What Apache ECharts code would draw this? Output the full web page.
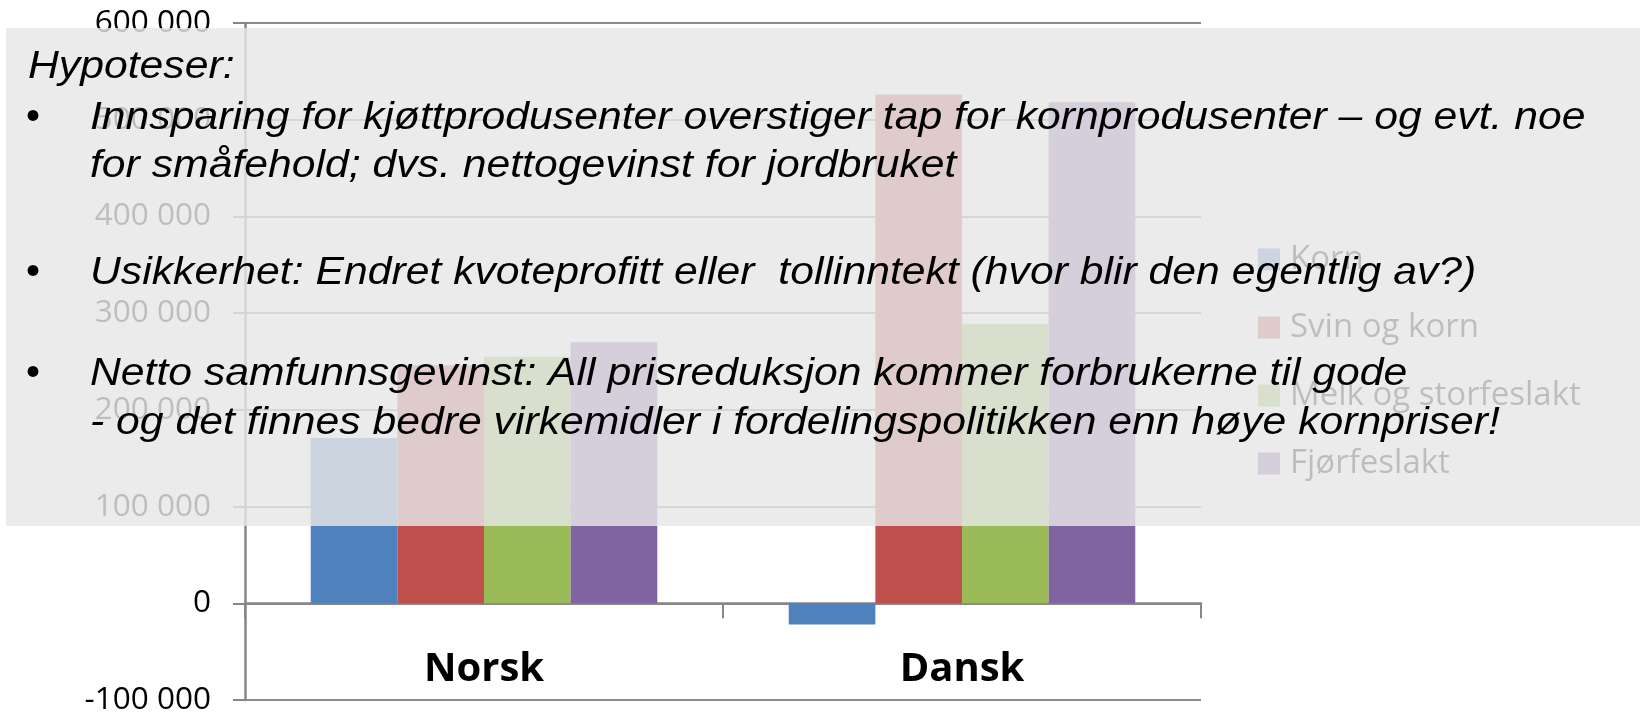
<!DOCTYPE html>
<html>
<head>
<meta charset="utf-8">
<script src="https://cdn.jsdelivr.net/npm/echarts@6/dist/echarts.min.js"></script>
<style>
html,body{margin:0;padding:0;background:#fff;}
#chart{width:1640px;height:714px;}
</style>
</head>
<body>
<div id="chart"></div>
<script>
const categories = ['Norsk', 'Dansk'];
const seriesNames = ['Korn', 'Svin og korn', 'Melk og storfeslakt', 'Fjørfeslakt'];
const korn = [171000, -22000];
const svinOgKorn = [246000, 526000];
const melkOgStorfeslakt = [255000, 289000];
const fjorfeslakt = [270000, 518000];
const yMin = -100000;
const yMax = 600000;
const yInterval = 100000;
const noteLines = [
  'Hypoteser:',
  'Innsparing for kjøttprodusenter overstiger tap for kornprodusenter – og evt. noe',
  'for småfehold; dvs. nettogevinst for jordbruket',
  'Usikkerhet: Endret kvoteprofitt eller  tollinntekt (hvor blir den egentlig av?)',
  'Netto samfunnsgevinst: All prisreduksjon kommer forbrukerne til gode',
  '- og det finnes bedre virkemidler i fordelingspolitikken enn høye kornpriser!'
];
const colors = ['#4f81bd', '#c0504d', '#9bbb59', '#8064a2'];

const chart = echarts.init(document.getElementById('chart'), null, {renderer: 'canvas'});

const seriesData = [korn, svinOgKorn, melkOgStorfeslakt, fjorfeslakt];
const series = seriesNames.map((n, i) => ({
  name: n,
  type: 'bar',
  data: seriesData[i],
  barGap: '0%',
  barCategoryGap: '27.5%',
  itemStyle: {color: colors[i]},
  z: 2
}));

const textFont = 'italic 39px "Liberation Sans", Arial, sans-serif';
const sx = 1.095;
const lineX = [28, 90, 90, 90, 90, 90];
const lineMid = [67, 118, 166, 273, 374, 423];
const graphics = [
  {type: 'rect', z: 100, shape: {x: 6, y: 28, width: 1634, height: 498},
   style: {fill: 'rgba(230,230,230,0.82)'}}
];
noteLines.forEach((t, i) => {
  graphics.push({type: 'text', z: 101, x: lineX[i], y: lineMid[i], scaleX: sx,
    style: {text: t, font: textFont, fill: '#000', verticalAlign: 'middle', align: 'left'}});
});
[118, 273, 374].forEach(y => {
  graphics.push({type: 'text', z: 101, x: 26, y: y,
    style: {text: '•', font: '40px "Liberation Sans", Arial, sans-serif', fill: '#000', verticalAlign: 'middle', align: 'left'}});
});

chart.setOption({
  animation: false,
  color: colors,
  grid: {left: 245, right: 439, top: 23, bottom: 14, containLabel: false, outerBoundsMode: 'none'},
  legend: {
    orient: 'vertical',
    left: 1258,
    top: 243,
    padding: 0,
    itemWidth: 22,
    itemHeight: 22,
    itemGap: 35,
    icon: 'rect',
    data: seriesNames,
    textStyle: {fontFamily: 'Open Sans', fontSize: 33, color: '#000', lineHeight: 22, padding: [0, 0, 0, 5]}
  },
  xAxis: {
    type: 'category',
    data: categories,
    axisLine: {onZero: true, lineStyle: {color: '#868686', width: 2.5}},
    axisTick: {show: true, length: 15, alignWithLabel: false, lineStyle: {color: '#868686', width: 2}},
    axisLabel: {margin: -50, fontFamily: 'Open Sans', fontWeight: 'bold', fontSize: 40, color: '#000'}
  },
  yAxis: {
    type: 'value',
    min: yMin,
    max: yMax,
    interval: yInterval,
    axisLine: {show: true, lineStyle: {color: '#868686', width: 2.5}},
    axisTick: {show: true, length: 12, lineStyle: {color: '#868686', width: 2}},
    splitLine: {show: true, lineStyle: {color: '#8c8c8c', width: 2}},
    axisLabel: {
      margin: 34, fontFamily: 'Open Sans', fontSize: 31.5, color: '#000',
      formatter: v => {
        const s = Math.abs(v).toString().replace(/\B(?=(\d{3})+(?!\d))/g, ' ');
        return (v < 0 ? '-' : '') + s;
      }
    }
  },
  graphic: graphics,
  series: series
});
</script>
</body>
</html>
